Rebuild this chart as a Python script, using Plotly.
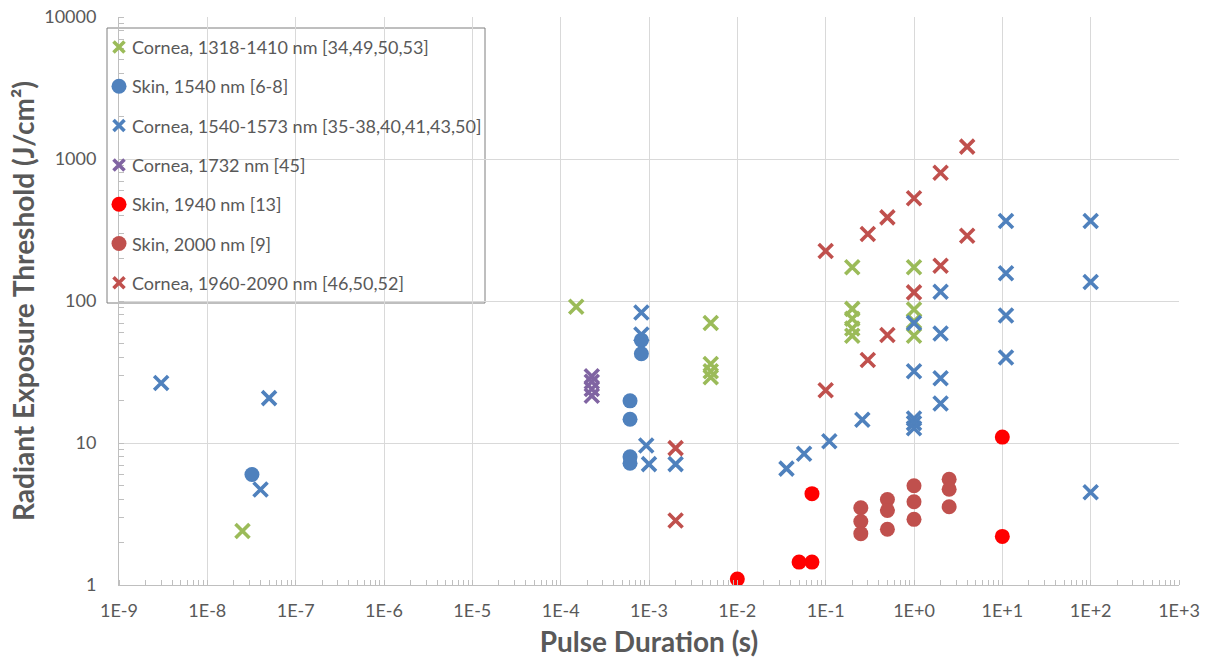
import plotly.graph_objects as go

# ---- data ----
green_x = [1.5e-4, 2.5e-8, 5e-3, 5e-3, 5e-3, 5e-3, 0.2, 0.2, 0.2, 0.2, 0.2, 1, 1, 1, 1]
green_y = [91, 2.4, 70, 36, 32, 29, 173, 88, 75, 64, 57, 173, 87, 72, 57]

skin1540_x = [3.2e-8, 6.1e-4, 6.1e-4, 6.1e-4, 6.1e-4, 8.2e-4, 8.2e-4]
skin1540_y = [6, 19.8, 14.7, 8.0, 7.2, 53, 42.5]

cornea1540_x = [3e-9, 5e-8, 4e-8, 8.2e-4, 8.2e-4, 9.3e-4, 1e-3, 2e-3, 0.036, 0.057, 0.11, 0.26,
                1, 1, 1, 1, 1, 2, 2, 2, 2, 11, 11, 11, 11, 100, 100, 100]
cornea1540_y = [26.5, 20.7, 4.7, 83, 58, 9.6, 7.1, 7.1, 6.6, 8.4, 10.3, 14.6,
                70, 32, 14.9, 13.8, 12.7, 116, 59, 28.6, 19, 366, 157, 79, 40, 366, 136, 4.5]

cornea1732_x = [2.25e-4, 2.25e-4, 2.25e-4, 2.25e-4]
cornea1732_y = [29.5, 27, 24, 21.5]

skin1940_x = [0.01, 0.05, 0.07, 0.07, 10, 10]
skin1940_y = [1.1, 1.45, 1.45, 4.4, 11, 2.2]

skin2000_x = [0.25, 0.25, 0.25, 0.5, 0.5, 0.5, 1, 1, 1, 2.5, 2.5, 2.5]
skin2000_y = [3.5, 2.8, 2.3, 4.0, 3.35, 2.47, 5.0, 3.86, 2.9, 5.55, 4.72, 3.56]

cornea2090_x = [2e-3, 2e-3, 0.1, 0.1, 0.3, 0.3, 0.5, 0.5, 1, 1, 2, 2, 4, 4]
cornea2090_y = [9.2, 2.85, 225, 23.5, 296, 38.4, 388, 57.6, 529, 115, 801, 177, 1222, 288]

x_tickvals = [1e-9, 1e-8, 1e-7, 1e-6, 1e-5, 1e-4, 1e-3, 1e-2, 1e-1, 1e0, 1e1, 1e2, 1e3]
x_ticktext = ["1E-9", "1E-8", "1E-7", "1E-6", "1E-5", "1E-4", "1E-3", "1E-2", "1E-1",
              "1E+0", "1E+1", "1E+2", "1E+3"]
y_tickvals = [1, 10, 100, 1000, 10000]
y_ticktext = ["1", "10", "100", "1000", "10000"]

series_names = ["Cornea, 1318-1410 nm [34,49,50,53]", "Skin, 1540 nm [6-8]",
                "Cornea, 1540-1573 nm [35-38,40,41,43,50]", "Cornea, 1732 nm [45]",
                "Skin, 1940 nm [13]", "Skin, 2000 nm [9]", "Cornea, 1960-2090 nm [46,50,52]"]
series_x = [green_x, skin1540_x, cornea1540_x, cornea1732_x, skin1940_x, skin2000_x, cornea2090_x]
series_y = [green_y, skin1540_y, cornea1540_y, cornea1732_y, skin1940_y, skin2000_y, cornea2090_y]
series_kind = ["x", "o", "x", "x", "o", "o", "x"]
series_color = ["#9BBB59", "#4F81BD", "#4F81BD", "#8064A2", "#FF0000", "#C0504D", "#C0504D"]

FONT = "Lato"
GRAY = "#595959"

# plot-area geometry (pixels)
W, H = 1208, 666
L, R, T, B = 119, 29, 17, 81
PW, PH = W - L - R, H - T - B


def fx(px):
    return (px - L) / PW


def fy(py):
    return (H - B - py) / PH


def marker_for(kind, col):
    if kind == "x":
        return dict(symbol="x-thin", size=14, color=col, line=dict(color=col, width=3.6))
    return dict(symbol="circle", size=15, color=col, line=dict(width=0))


fig = go.Figure()
for name, xs, ys, kind, col in zip(series_names, series_x, series_y, series_kind, series_color):
    fig.add_trace(go.Scatter(x=xs, y=ys, mode="markers", name=name,
                             marker=marker_for(kind, col), showlegend=False))

# ---- legend drawn inside the plot (Excel-like compact layout) ----
LEG_L, LEG_R, LEG_T, LEG_B = 107, 485, 28, 303
ROW0, ROW_STEP = 47, 39.3
MARK_X, TEXT_X = 119, 130
fig.add_shape(type="rect", xref="paper", yref="paper",
              x0=fx(LEG_L), x1=fx(LEG_R), y0=fy(LEG_B), y1=fy(LEG_T),
              fillcolor="white", line=dict(color="#7F7F7F", width=1), layer="between")
for i, (name, kind, col) in enumerate(zip(series_names, series_kind, series_color)):
    yy = fy(ROW0 + i * ROW_STEP)
    if kind == "x":
        fig.add_shape(type="path", xref="paper", yref="paper",
                      xsizemode="pixel", ysizemode="pixel", xanchor=fx(MARK_X), yanchor=yy,
                      path="M-5.5,-5.5 L5.5,5.5 M-5.5,5.5 L5.5,-5.5",
                      line=dict(color=col, width=3.6), layer="above")
    else:
        fig.add_shape(type="circle", xref="paper", yref="paper",
                      xsizemode="pixel", ysizemode="pixel", xanchor=fx(MARK_X), yanchor=yy,
                      x0=-7.5, x1=7.5, y0=-7.5, y1=7.5,
                      fillcolor=col, line=dict(width=0), layer="above")
    fig.add_annotation(xref="paper", yref="paper", x=fx(TEXT_X), y=yy, text=name,
                       showarrow=False, xanchor="left", yanchor="middle",
                       font=dict(family=FONT, size=18, color=GRAY))

axis_common = dict(
    type="log", automargin=False,
    showgrid=True, gridcolor="#D9D9D9", gridwidth=1,
    showline=True, linecolor="#BFBFBF", linewidth=1,
    ticks="", tickfont=dict(family=FONT, size=18, color=GRAY),
    zeroline=False,
    minor=dict(ticks="inside", ticklen=5, tickcolor="#BFBFBF", dtick="D1", showgrid=False),
)

fig.update_layout(
    width=W, height=H,
    margin=dict(l=L, r=R, t=T, b=B, autoexpand=False),
    paper_bgcolor="white", plot_bgcolor="white",
    font=dict(family=FONT, color=GRAY),
    xaxis=dict(axis_common, range=[-9, 3], tickvals=x_tickvals, ticktext=x_ticktext,
               ticklabelstandoff=9,
               title=dict(text="<b>Pulse Duration (s)</b>", font=dict(family=FONT, size=28, color=GRAY),
                          standoff=12)),
    yaxis=dict(axis_common, range=[0, 4], tickvals=y_tickvals, ticktext=y_ticktext,
               ticklabelstandoff=18,
               title=dict(text="<b>Radiant Exposure Threshold (J/cm²)</b>",
                          font=dict(family=FONT, size=28, color=GRAY), standoff=1)),
    showlegend=False,
)

# remove the browser's default 8px body margin so the figure sits at the page origin
fig.write_html("out.html", config={"displayModeBar": False},
               post_script="document.body.style.margin='0px';")
